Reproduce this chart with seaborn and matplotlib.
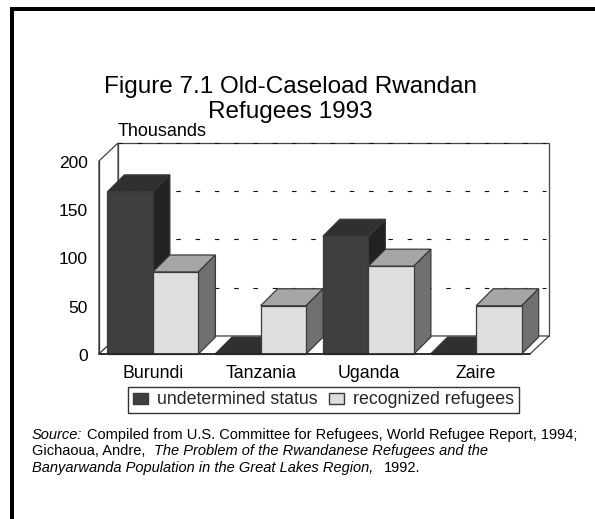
import matplotlib
matplotlib.use("Agg")
import matplotlib.pyplot as plt
from matplotlib.patches import Polygon, Rectangle
from matplotlib.transforms import ScaledTranslation
import seaborn as sns
import pandas as pd

categories = ["Burundi", "Tanzania", "Uganda", "Zaire"]
undetermined = [168, 0, 122, 0]
recognized = [85, 50, 91, 50]
series_names = ["undetermined status", "recognized refugees"]
y_ticks = [0, 50, 100, 150, 200]
grid_values = [50, 100, 150, 200]

W, H = 595, 519
sns.set_theme(style="white")
plt.rcParams["font.family"] = ["Liberation Sans", "DejaVu Sans"]

df = pd.DataFrame({
    "country": categories * 2,
    "series": [series_names[0]] * 4 + [series_names[1]] * 4,
    "value": undetermined + recognized,
})

FRONT = ["#3f3f3f", "#dedede"]
TOP = ["#303030", "#a6a6a6"]
SIDE = ["#222222", "#707070"]
EDGE = "#3a3a3a"

fig = plt.figure(figsize=(W / 100, H / 100), dpi=100, facecolor="white")
ax = fig.add_axes([99 / W, 1 - 354 / H, 431 / W, 193 / H])
sns.barplot(data=df, x="country", y="value", hue="series", order=categories,
            hue_order=series_names, palette=FRONT, width=0.845, gap=0,
            saturation=1, ax=ax, legend=False, edgecolor=EDGE, linewidth=0.9)
ax.set_xlim(-0.5, 3.5)
ax.set_ylim(0, 200)
ax.set_xlabel("")
ax.set_ylabel("")
for s in ax.spines.values():
    s.set_visible(False)
ax.patch.set_alpha(0)

px_x = 4 / 431
px_y = 200 / 193
wall_dx, wall_dy = 19 * px_x, 18 * px_y
dx, dy = 17 * px_x, 17 * px_y
lw = 0.9

# back wall and floor
wall_col = "#444444"
ax.add_patch(Polygon([(-0.5 + wall_dx, wall_dy), (3.5 + wall_dx, wall_dy), (3.5 + wall_dx, 200 + wall_dy), (-0.5 + wall_dx, 200 + wall_dy)],
                     closed=True, fc="white", ec=wall_col, lw=lw, zorder=0.5, clip_on=False))
ax.add_patch(Polygon([(-0.5, 0), (-0.5, 200), (-0.5 + wall_dx, 200 + wall_dy), (-0.5 + wall_dx, wall_dy)],
                     closed=True, fc="white", ec=wall_col, lw=lw, zorder=0.6, clip_on=False))
ax.add_patch(Polygon([(-0.5, 0), (3.5, 0), (3.5 + wall_dx, wall_dy), (-0.5 + wall_dx, wall_dy)],
                     closed=True, fc="white", ec=wall_col, lw=lw, zorder=0.7, clip_on=False))
for g in grid_values:
    ax.plot([-0.5 + wall_dx, 3.5 + wall_dx - 3 * px_x], [g + wall_dy, g + wall_dy], color="#111111", lw=0.8,
            ls=(0, (4.05, 13.3)), zorder=0.8, clip_on=False)

# bars with their extruded faces, taken from the bars seaborn drew
bars = [p for p in ax.patches if isinstance(p, Rectangle) and p.get_width() < 1]
bars = sorted(bars, key=lambda b: b.get_x())
for i, b in enumerate(bars):
    x0, w, h = b.get_x(), b.get_width(), b.get_height()
    k = 0 if b.get_facecolor()[0] < 0.5 else 1
    z = 2 + i * 0.1
    b.set_zorder(z + 0.02)
    b.set_clip_on(False)
    ax.add_patch(Polygon([(x0, h), (x0 + dx, h + dy), (x0 + w + dx, h + dy), (x0 + w, h)],
                         closed=True, fc=TOP[k], ec=EDGE, lw=lw, zorder=z, clip_on=False))
    ax.add_patch(Polygon([(x0 + w, 0), (x0 + w + dx, dy), (x0 + w + dx, h + dy), (x0 + w, h)],
                         closed=True, fc=SIDE[k], ec=EDGE, lw=lw, zorder=z + 0.01, clip_on=False))

ax.plot([-0.5, 3.5], [0, 0], color="#222222", lw=1.2, zorder=3, clip_on=False)
ax.plot([-0.5, -0.5], [0, 200], color="#333333", lw=0.9, zorder=3, clip_on=False)

ax.set_yticks(y_ticks)
ax.set_yticklabels([str(v) for v in y_ticks])
ax.tick_params(axis="y", length=2.5, width=0.8, color="#333333", direction="in", pad=8, labelsize=12.5, labelcolor="black", left=True)
ax.tick_params(axis="x", length=0, pad=8, labelsize=12.8, labelcolor="black")
shift = ScaledTranslation(0, -1 / 100, fig.dpi_scale_trans)
for lab in ax.get_yticklabels():
    lab.set_transform(lab.get_transform() + shift)

def px(x, y):
    return x / W, 1 - y / H

# page border
fig.add_artist(Rectangle((10 / W, 0), 4.3 / W, 1 - 7 / H, transform=fig.transFigure, fc="black", ec="none"))
fig.add_artist(Rectangle((10 / W, 1 - 11 / H), 1, 4 / H, transform=fig.transFigure, fc="black", ec="none"))

fig.text(*px(290, 86.5), "Figure 7.1 Old-Caseload Rwandan", ha="center", va="center", fontsize=17.5, color="black")
fig.text(*px(290, 111.5), "Refugees 1993", ha="center", va="center", fontsize=17.5, color="black")
fig.text(*px(118, 131), "Thousands", ha="left", va="center", fontsize=13, color="black")

# legend
handles = [Rectangle((0, 0), 1, 1, fc=FRONT[0], ec=EDGE), Rectangle((0, 0), 1, 1, fc=FRONT[1], ec=EDGE)]
leg = fig.legend(handles, series_names, ncol=2, loc="center", bbox_to_anchor=px(323.5, 400),
                 frameon=True, fancybox=False, framealpha=1, edgecolor="#333333", fontsize=12.75,
                 handlelength=0.87, handleheight=0.6, handletextpad=0.5, columnspacing=0.65,
                 borderpad=0.27, borderaxespad=0)

# source note
FS = 10.5
fig.text(*px(32, 435), "Source:", style="italic", fontsize=FS, va="center", color="black")
fig.text(*px(87, 435), "Compiled from U.S. Committee for Refugees, World Refugee Report, 1994;", fontsize=FS, va="center", color="black")
fig.text(*px(32, 451), "Gichaoua, Andre,", fontsize=FS, va="center", color="black")
fig.text(*px(154, 451), "The Problem of the Rwandanese Refugees and the", style="italic", fontsize=FS, va="center", color="black")
fig.text(*px(32, 468), "Banyarwanda Population in the Great Lakes Region,", style="italic", fontsize=FS, va="center", color="black")
fig.text(*px(384, 468), "1992.", fontsize=FS, va="center", color="black")

fig.savefig("out.png", dpi=100)
